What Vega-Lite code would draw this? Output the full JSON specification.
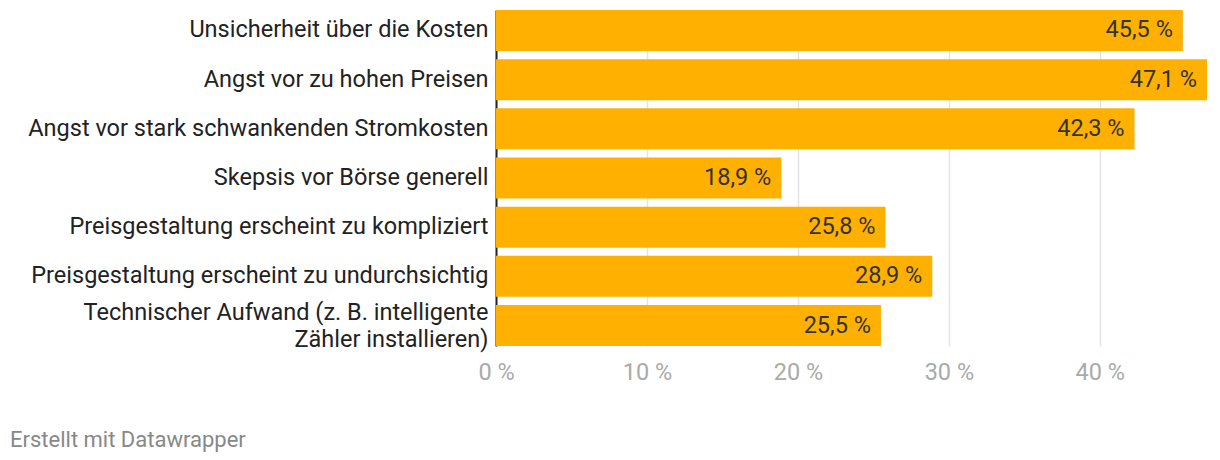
{
  "$schema": "https://vega.github.io/schema/vega-lite/v6.json",
  "autosize": "none",
  "width": 711,
  "height": 336,
  "padding": {"left": 496, "top": 10, "right": 13, "bottom": 114},
  "background": "white",
  "config": {
    "font": "Roboto",
    "view": {"stroke": null}
  },
  "title": {
    "text": "Erstellt mit Datawrapper",
    "orient": "bottom",
    "anchor": "start",
    "frame": "group",
    "dx": -486,
    "offset": 46,
    "fontSize": 22,
    "fontWeight": "normal",
    "color": "#888888",
    "font": "Roboto"
  },
  "data": {
    "values": [
      {"grund": "Unsicherheit über die Kosten", "wert": 45.5},
      {"grund": "Angst vor zu hohen Preisen", "wert": 47.1},
      {"grund": "Angst vor stark schwankenden Stromkosten", "wert": 42.3},
      {"grund": "Skepsis vor Börse generell", "wert": 18.9},
      {"grund": "Preisgestaltung erscheint zu kompliziert", "wert": 25.8},
      {"grund": "Preisgestaltung erscheint zu undurchsichtig", "wert": 28.9},
      {"grund": "Technischer Aufwand (z. B. intelligente Zähler installieren)", "wert": 25.5}
    ]
  },
  "transform": [
    {"calculate": "replace(format(datum.wert, '.1f'), '.', ',') + ' %'", "as": "label"}
  ],
  "encoding": {
    "y": {
      "field": "grund",
      "type": "nominal",
      "sort": null,
      "scale": {"paddingInner": 0.1667, "paddingOuter": 0},
      "axis": {
        "title": null,
        "domain": true,
        "domainColor": "#222222",
        "domainWidth": 2,
        "ticks": false,
        "labelPadding": 8,
        "labelFontSize": 23.5,
        "labelColor": "#222222",
        "labelLimit": 500,
        "labelLineHeight": 27,
        "labelOffset": {"condition": {"test": "datum.value == 'Technischer Aufwand (z. B. intelligente Zähler installieren)'", "value": -13}, "value": 0},
        "labelExpr": "datum.value == 'Technischer Aufwand (z. B. intelligente Zähler installieren)' ? ['Technischer Aufwand (z. B. intelligente', 'Zähler installieren)'] : datum.value"
      }
    },
    "x": {
      "field": "wert",
      "type": "quantitative",
      "scale": {"domain": [0, 47.1], "nice": false},
      "axis": {
        "title": null,
        "domain": false,
        "ticks": false,
        "values": [0, 10, 20, 30, 40],
        "labelExpr": "datum.value + ' %'",
        "labelFontSize": 23.5,
        "labelColor": "#aaaaaa",
        "labelPadding": 14,
        "labelFlush": false,
        "grid": true,
        "gridColor": "#e3e3e3",
        "gridWidth": 1.5
      }
    }
  },
  "layer": [
    {"mark": {"type": "bar", "color": "#ffb000"}},
    {
      "mark": {"type": "text", "align": "right", "baseline": "middle", "dx": -10, "fontSize": 23.5, "color": "#333333"},
      "encoding": {"text": {"field": "label"}}
    }
  ]
}
